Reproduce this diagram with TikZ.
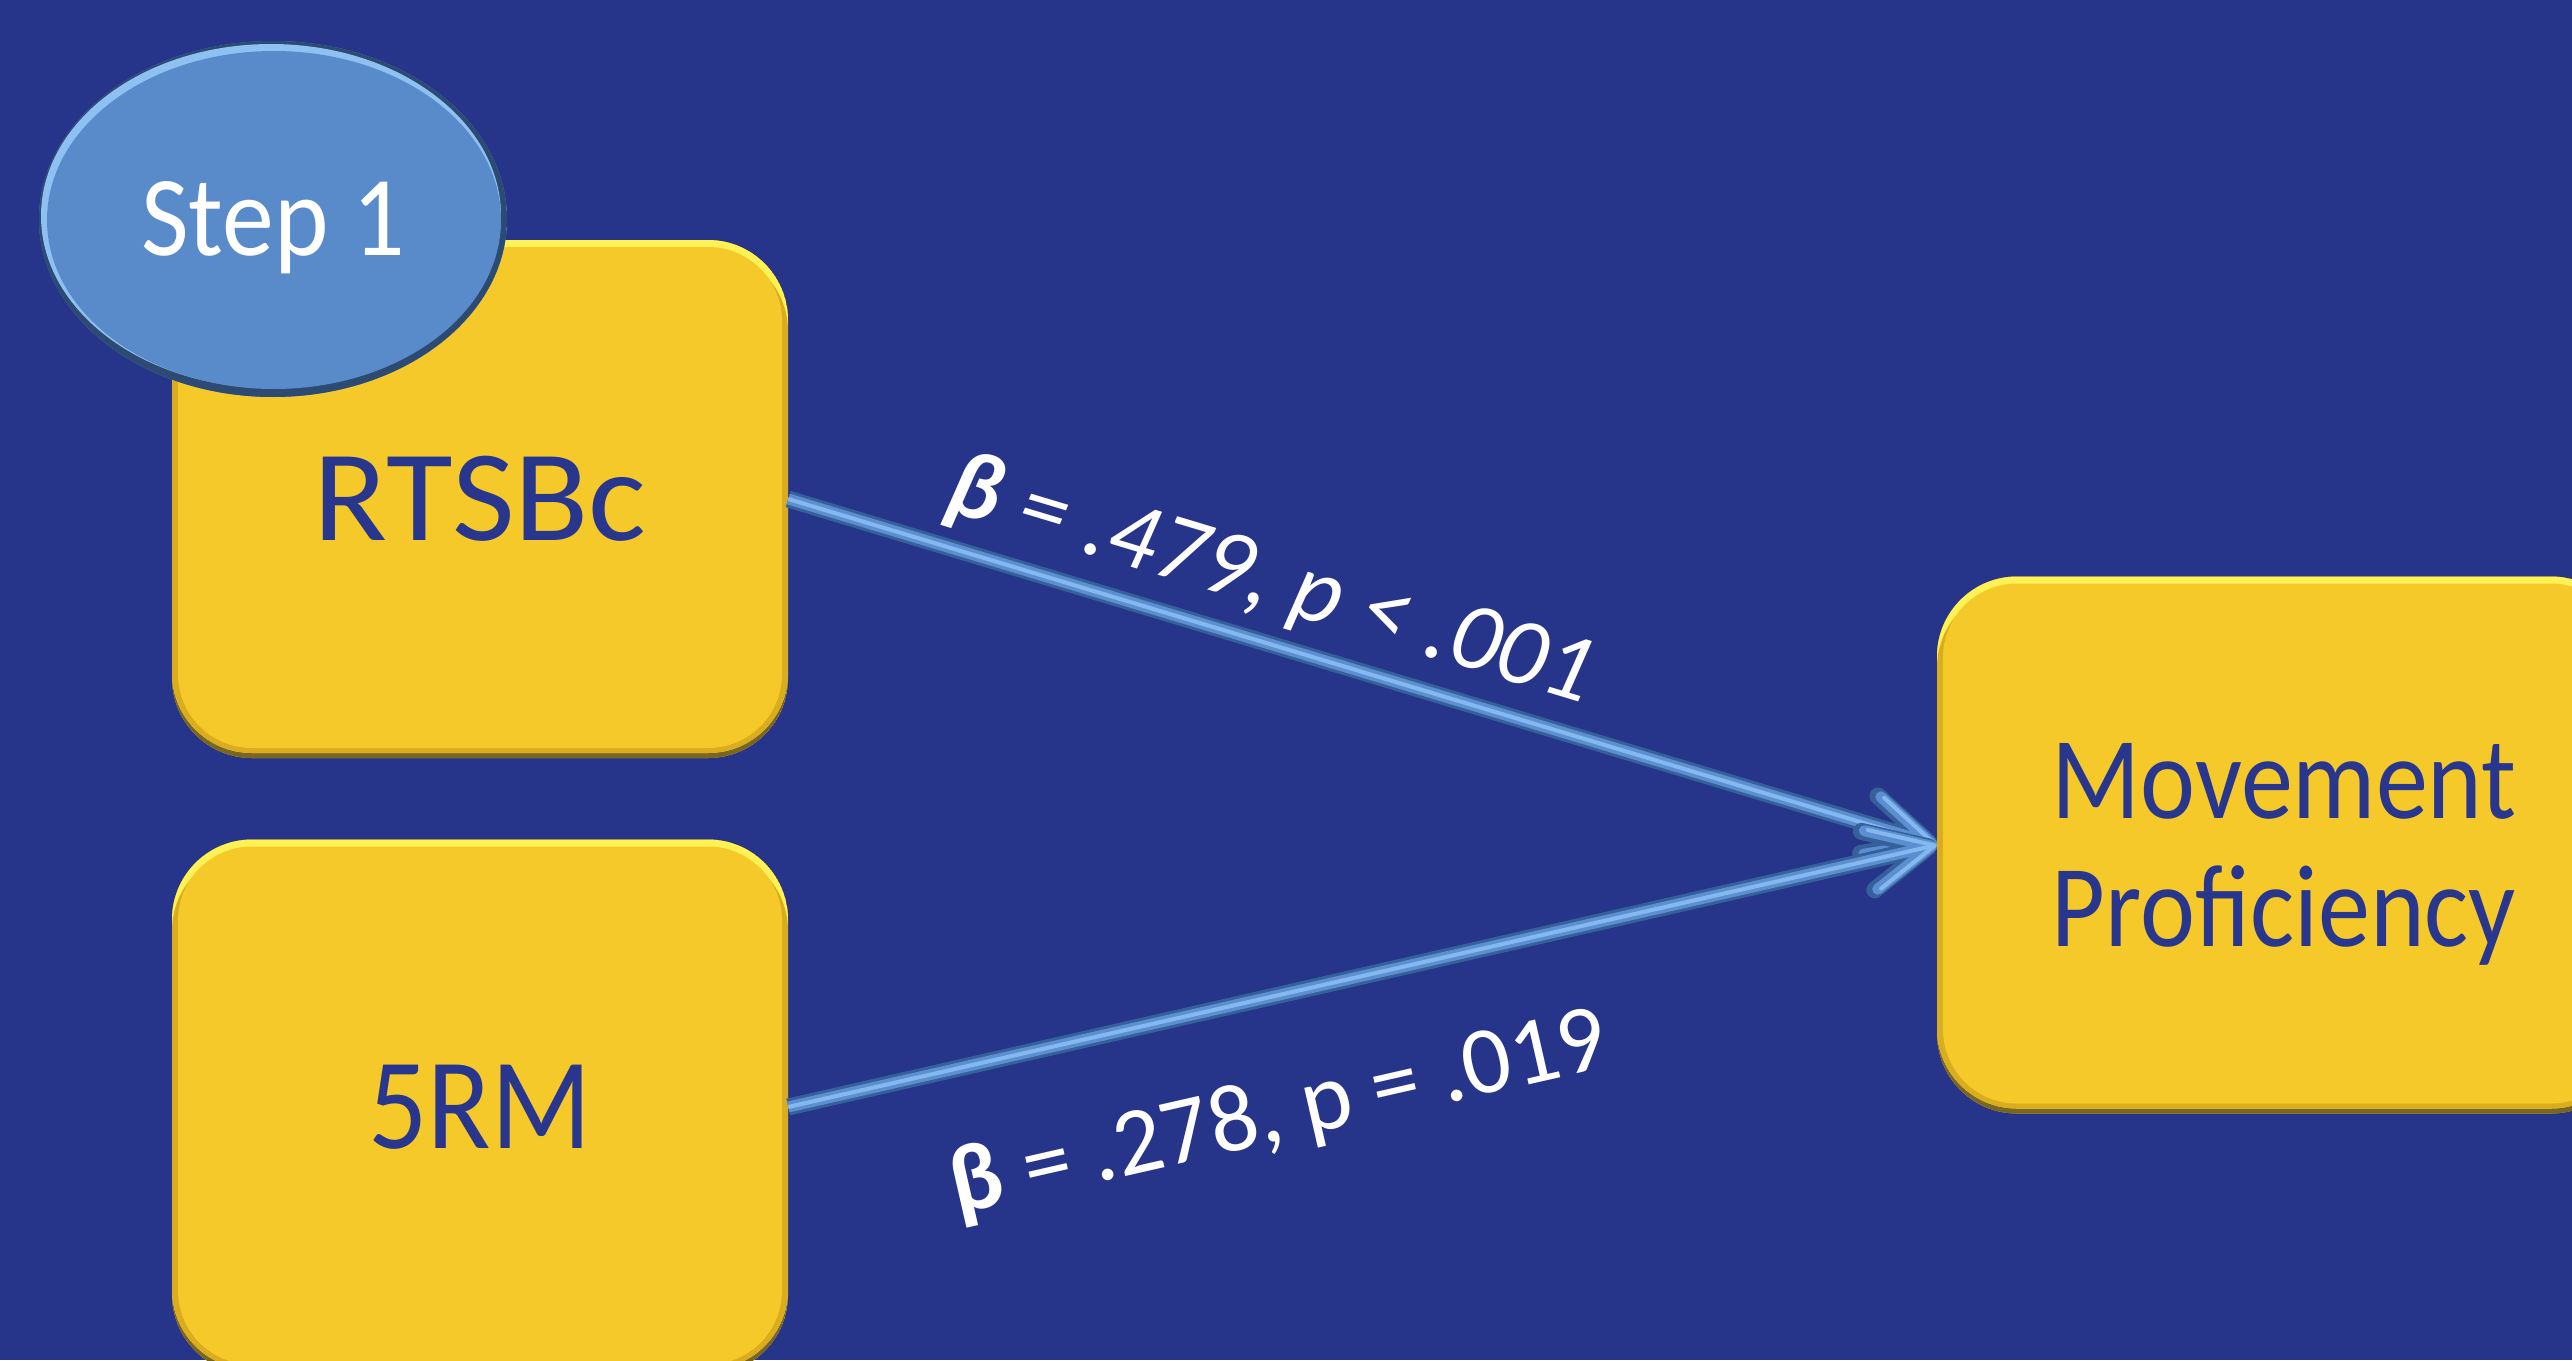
\documentclass[tikz,border=0pt]{standalone}
\usepackage{fontspec}
\setmainfont{Carlito}
\usetikzlibrary{shapes.geometric,arrows.meta}

\definecolor{slidebg}{HTML}{263489}
\definecolor{boxmain}{HTML}{F5C92A}
\definecolor{boxhi}{HTML}{FFF255}
\definecolor{boxside}{HTML}{D9AD1E}
\definecolor{boxlow}{HTML}{7A6623}
\definecolor{boxtext}{HTML}{28368E}
\definecolor{ovmain}{HTML}{598BCB}
\definecolor{ovhi}{HTML}{8FC0F2}
\definecolor{ovdark}{HTML}{2D4A72}
\definecolor{tubedark}{HTML}{35609A}
\definecolor{tubemid}{HTML}{5B8FD2}
\definecolor{tubehi}{HTML}{86B8F0}

\tikzset{
  % yellow rounded box with a bevelled rim: light top edge, dark bottom edge
  bevelbox/.style={rectangle, rounded corners=80pt, inner sep=0pt, fill=boxmain,
    text=boxtext, align=center,
    path picture={
      \fill[boxlow] (path picture bounding box.south west) rectangle (path picture bounding box.north east);
      \fill[boxhi, rounded corners=80pt] ([yshift=5pt]path picture bounding box.south west)
        rectangle (path picture bounding box.north east);
      \fill[boxside, rounded corners=80pt] ([yshift=5pt]path picture bounding box.south west)
        rectangle ([yshift=-11pt]path picture bounding box.north east);
      \fill[boxmain, rounded corners=74pt] ([xshift=6pt,yshift=10pt]path picture bounding box.south west)
        rectangle ([xshift=-6pt,yshift=-7pt]path picture bounding box.north east);
    }},
  % blue oval badge
  stepoval/.style={ellipse, inner sep=0pt, minimum width=468pt, minimum height=356pt,
    fill=ovmain, text=white, text depth=0pt,
    path picture={
      \fill[ovdark] (path picture bounding box.south west) rectangle (path picture bounding box.north east);
      \fill[ovhi] ([xshift=-2pt,yshift=3pt]path picture bounding box.center) ellipse [x radius=230pt, y radius=172pt];
      \fill[ovmain] ([xshift=1pt,yshift=-1pt]path picture bounding box.center) ellipse [x radius=227pt, y radius=169pt];
    }},
  tubetip/.style={-{Straight Barb[length=62pt,width=60pt,round]}},
  tubeouter/.style={tubetip, draw=tubedark, line width=17pt},
  tubeinner/.style={tubetip, draw=tubemid, line width=11pt},
  tubeshine/.style={tubetip, draw=tubehi, line width=4pt},
  lbl/.style={text=white, inner sep=0pt, font=\fontsize{96}{96}\selectfont},
}

\begin{document}
\begin{tikzpicture}[x=1pt,y=-1pt]
  \fill[slidebg] (0,0) rectangle (2572,1360);
  \useasboundingbox (0,0) rectangle (2572,1360);
  \clip (0,0) rectangle (2572,1360);

  % variable boxes
  \node[bevelbox, minimum width=616pt, minimum height=518pt,
        font=\fontsize{130}{130}\selectfont] (rtsbc) at (480,499) {\scalebox{1.05}[1]{RTSBc}};
  \node[bevelbox, minimum width=616pt, minimum height=535pt,
        font=\fontsize{130}{130}\selectfont] (fiverm) at (480,1107) {\scalebox{0.9}[1]{5RM}};
  \node[bevelbox, minimum width=694pt, minimum height=537pt, text depth=0pt,
        font=\fontsize{117}{128}\selectfont] (mp) at (2284,845)
        {\scalebox{0.89}[1]{Movement}\\\scalebox{0.89}[1]{Proficiency}};

  % step badge
  \node[stepoval, font=\fontsize{114}{114}\selectfont] (step) at (273,219) {\scalebox{0.91}[1]{Step 1}};

  % paths with coefficients
  \draw[tubeouter] (rtsbc.east) --
    node[lbl, sloped, pos=0.405, above=10pt]
      {\itshape{\bfseries β} = .479, p < .001} (mp.west);
  \draw[tubeinner] (rtsbc.east) -- (mp.west);
  \draw[tubeshine] (rtsbc.east) -- (mp.west);

  \draw[tubeouter] (fiverm.east) --
    node[lbl, sloped, pos=0.405, below=68pt]
      {{\bfseries β} = .278, p = .019} (mp.west);
  \draw[tubeinner] (fiverm.east) -- (mp.west);
  \draw[tubeshine] (fiverm.east) -- (mp.west);
\end{tikzpicture}
\end{document}
